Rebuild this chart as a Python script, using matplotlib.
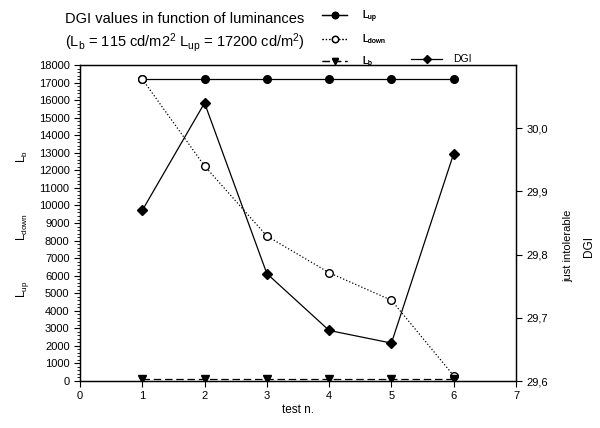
import numpy as np
import matplotlib
matplotlib.use("Agg")
import matplotlib.pyplot as plt
from matplotlib.ticker import AutoMinorLocator, FuncFormatter

plt.rcParams['font.family'] = ['Liberation Sans', 'DejaVu Sans']

test = [1, 2, 3, 4, 5, 6]
L_up = [17200, 17200, 17200, 17200, 17200, 17200]
L_down = [17200, 12250, 8260, 6170, 4600, 300]
L_b = [115, 115, 115, 115, 115, 115]
DGI = [29.87, 30.04, 29.77, 29.68, 29.66, 29.96]

fig = plt.figure(figsize=(6, 4.28), dpi=100)
ax = fig.add_axes([0.1333, 0.1098, 0.7267, 0.7382])
ax2 = ax.twinx()

l1, = ax.plot(test, L_up, '-', color='black', lw=0.9, marker='o', ms=5.5,
              mfc='black', label='$\\mathregular{L_{up}}$')
l2, = ax.plot(test, L_down, ':', color='black', lw=0.9, marker='o', ms=5.5,
              mfc='white', label='$\\mathregular{L_{down}}$')
l3, = ax.plot(test, L_b, '--', color='black', lw=0.9, marker='v', ms=5.5,
              mfc='black', dashes=(6, 3), label='$\\mathregular{L_b}$')
l4, = ax2.plot(test, DGI, '-', color='black', lw=0.9, marker='D', ms=5.5,
               mfc='black', label='DGI')

ax.set_xlim(0, 7)
ax.set_ylim(0, 18000)
ax.set_xticks(range(0, 8))
ax.set_yticks(range(0, 18001, 1000))
ax.yaxis.set_minor_locator(AutoMinorLocator(5))
ax.tick_params(axis='both', labelsize=8, direction='out', length=4)
ax.tick_params(axis='y', which='minor', length=2)
ax.set_xlabel('test n.', fontsize=8.5, labelpad=2)

ax2.set_ylim(29.6, 30.1)
ax2.set_yticks([29.6, 29.7, 29.8, 29.9, 30.0])
ax2.yaxis.set_major_formatter(FuncFormatter(lambda v, p: ('%.1f' % v).replace('.', ',')))
ax2.tick_params(axis='y', labelsize=8, direction='out', length=4)

for a in (ax, ax2):
    for s in a.spines.values():
        s.set_linewidth(0.9)

# left axis labels (one per series)
fig.text(0.037, 0.635, '$\\mathregular{L_b}$', rotation=90, fontsize=8.5, ha='center', va='center')
fig.text(0.037, 0.47, '$\\mathregular{L_{down}}$', rotation=90, fontsize=8.5, ha='center', va='center')
fig.text(0.037, 0.325, '$\\mathregular{L_{up}}$', rotation=90, fontsize=8.5, ha='center', va='center')

# right axis labels
fig.text(0.947, 0.425, 'just intolerable', rotation=90, fontsize=8, ha='center', va='center')
fig.text(0.982, 0.425, 'DGI', rotation=90, fontsize=8.5, ha='center', va='center')

# title
fig.text(0.108, 0.955, 'DGI values in function of luminances', fontsize=10.5, ha='left', va='center')
fig.text(0.108, 0.90, '($\\mathregular{L_b}$ = 115 cd/m2$\\mathregular{^2}$ $\\mathregular{L_{up}}$ = 17200 cd/m$\\mathregular{^2}$)',
         fontsize=10.5, ha='left', va='center')

leg1 = fig.legend(handles=[l1, l2, l3], loc='upper left', bbox_to_anchor=(0.53, 0.99),
                  frameon=False, fontsize=7, handlelength=2.6, labelspacing=0.8,
                  handletextpad=1.5, borderaxespad=0)
for h in leg1.legend_handles:
    h.set_markersize(4.5)
leg2 = fig.legend(handles=[l4], loc='upper left', bbox_to_anchor=(0.678, 0.883),
                  frameon=False, fontsize=7.5, handlelength=3, handletextpad=1.0,
                  borderaxespad=0)
for h in leg2.legend_handles:
    h.set_markersize(4.5)
leg1.set_zorder(10)
leg2.set_zorder(10)
fig.add_artist(leg1)

fig.savefig('out.png', dpi=100)
